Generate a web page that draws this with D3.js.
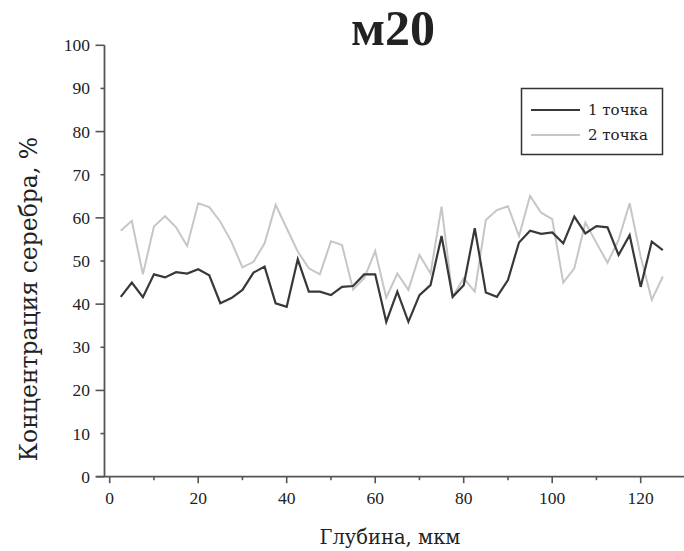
<!DOCTYPE html>
<html>
<head>
<meta charset="utf-8">
<script src="https://cdn.jsdelivr.net/npm/d3@7"></script>
<style>
  html, body { margin: 0; padding: 0; background: #fff; }
  svg { display: block; }
  text { font-family: "Liberation Serif", "Times New Roman", serif; fill: #222; }
  text.wide { font-family: "DejaVu Serif", serif; }
</style>
</head>
<body>
<svg id="chart" width="684" height="551"></svg>
<script>
const title = "м20";
const xLabel = "Глубина, мкм";
const yLabel = "Концентрация серебра, %";
const seriesNames = ["1 точка", "2 точка"];
const seriesColors = ["#383838", "#c6c6c6"];

const depth = [2.5, 5, 7.5, 10, 12.5, 15, 17.5, 20, 22.5, 25, 27.5, 30, 32.5, 35, 37.5, 40, 42.5, 45, 47.5, 50,
  52.5, 55, 57.5, 60, 62.5, 65, 67.5, 70, 72.5, 75, 77.5, 80, 82.5, 85, 87.5, 90, 92.5, 95, 97.5, 100,
  102.5, 105, 107.5, 110, 112.5, 115, 117.5, 120, 122.5, 125];

const point1 = [41.7, 45.0, 41.6, 46.9, 46.2, 47.4, 47.1, 48.1, 46.7, 40.2, 41.4, 43.3, 47.3, 48.7, 40.2, 39.4, 50.4, 42.9, 42.9, 42.1,
  44.0, 44.2, 46.9, 46.9, 35.9, 42.9, 35.9, 42.1, 44.4, 55.8, 41.7, 44.4, 57.6, 42.7, 41.7, 45.6, 54.3, 57.0, 56.3, 56.6,
  54.1, 60.3, 56.4, 58.1, 57.8, 51.4, 56.0, 44.0, 54.5, 52.5];

const point2 = [57.0, 59.3, 46.9, 58.0, 60.4, 57.8, 53.5, 63.4, 62.5, 59.1, 54.5, 48.5, 49.8, 54.1, 63.0, 57.6, 52.2, 48.3, 46.9, 54.6,
  53.7, 43.4, 46.0, 52.3, 41.5, 47.1, 43.3, 51.4, 47.1, 62.6, 41.7, 46.0, 42.9, 59.5, 61.8, 62.7, 55.8, 65.1, 61.2, 59.7,
  45.0, 48.3, 58.9, 54.2, 49.6, 54.9, 63.4, 51.0, 41.0, 46.4];

const xMajorTicks = [0, 20, 40, 60, 80, 100, 120];
const xMinorTicks = [10, 30, 50, 70, 90, 110];
const yTicks = [0, 10, 20, 30, 40, 50, 60, 70, 80, 90, 100];

const svg = d3.select("#chart");
const axisColor = "#555";

const x = d3.scaleLinear().domain([0, 120]).range([109.7, 640.7]);
const y = d3.scaleLinear().domain([0, 100]).range([476.7, 45.3]);
const yAxisX = 104.5;

// x axis line
svg.append("line")
  .attr("x1", yAxisX - 8).attr("x2", 684)
  .attr("y1", y(0)).attr("y2", y(0))
  .attr("stroke", axisColor).attr("stroke-width", 1.8);

// y axis line
svg.append("line")
  .attr("x1", yAxisX).attr("x2", yAxisX)
  .attr("y1", y(100)).attr("y2", y(0))
  .attr("stroke", axisColor).attr("stroke-width", 1.8);

// x ticks
const gx = svg.append("g");
gx.selectAll("line.maj").data(xMajorTicks).join("line")
  .attr("x1", d => x(d)).attr("x2", d => x(d))
  .attr("y1", y(0)).attr("y2", y(0) + 6.5)
  .attr("stroke", axisColor).attr("stroke-width", 1.6);
gx.selectAll("line.min").data(xMinorTicks).join("line")
  .attr("x1", d => x(d)).attr("x2", d => x(d))
  .attr("y1", y(0)).attr("y2", y(0) + 3.5)
  .attr("stroke", axisColor).attr("stroke-width", 1.6);
gx.selectAll("text").data(xMajorTicks).join("text")
  .attr("x", d => x(d)).attr("y", 504)
  .attr("text-anchor", "middle").attr("font-size", 17.5)
  .text(d => d);

// y ticks
const gy = svg.append("g");
gy.selectAll("line").data(yTicks).join("line")
  .attr("x1", d => d % 20 === 0 ? yAxisX - 9 : yAxisX - 4).attr("x2", yAxisX)
  .attr("y1", d => y(d)).attr("y2", d => y(d))
  .attr("stroke", axisColor).attr("stroke-width", 1.6);
gy.selectAll("text").data(yTicks).join("text")
  .attr("x", 90).attr("y", d => y(d) + 6)
  .attr("text-anchor", "end").attr("font-size", 17.5)
  .text(d => d);

// lines
const line = d3.line().x(d => x(d[0])).y(d => y(d[1]));
const series = [point2, point1];
const colors = [seriesColors[1], seriesColors[0]];
series.forEach((vals, i) => {
  svg.append("path")
    .datum(depth.map((d, j) => [d, vals[j]]))
    .attr("d", line)
    .attr("fill", "none")
    .attr("stroke", colors[i])
    .attr("stroke-width", i === 0 ? 2 : 2.2)
    .attr("stroke-linejoin", "miter");
});

// title
svg.append("text")
  .attr("x", 393).attr("y", 45)
  .attr("text-anchor", "middle")
  .attr("font-size", 50).attr("font-weight", "bold")
  .text(title);

// axis labels
svg.append("text").attr("class", "wide")
  .attr("x", 390).attr("y", 544)
  .attr("text-anchor", "middle").attr("font-size", 19.5)
  .text(xLabel);
svg.append("text").attr("class", "wide")
  .attr("transform", "translate(37,299) rotate(-90)")
  .attr("text-anchor", "middle").attr("font-size", 23.5)
  .text(yLabel);

// legend
const lg = svg.append("g");
lg.append("rect")
  .attr("x", 521.5).attr("y", 88.5).attr("width", 141).attr("height", 66)
  .attr("fill", "#fff").attr("stroke", "#333").attr("stroke-width", 1.5);
seriesNames.forEach((name, i) => {
  const ly = 110 + i * 25;
  lg.append("line")
    .attr("x1", 531).attr("x2", 580).attr("y1", ly).attr("y2", ly)
    .attr("stroke", seriesColors[i]).attr("stroke-width", 2);
  lg.append("text").attr("class", "wide")
    .attr("x", 588).attr("y", ly + 5)
    .attr("font-size", 15)
    .text(name);
});
</script>
</body>
</html>
